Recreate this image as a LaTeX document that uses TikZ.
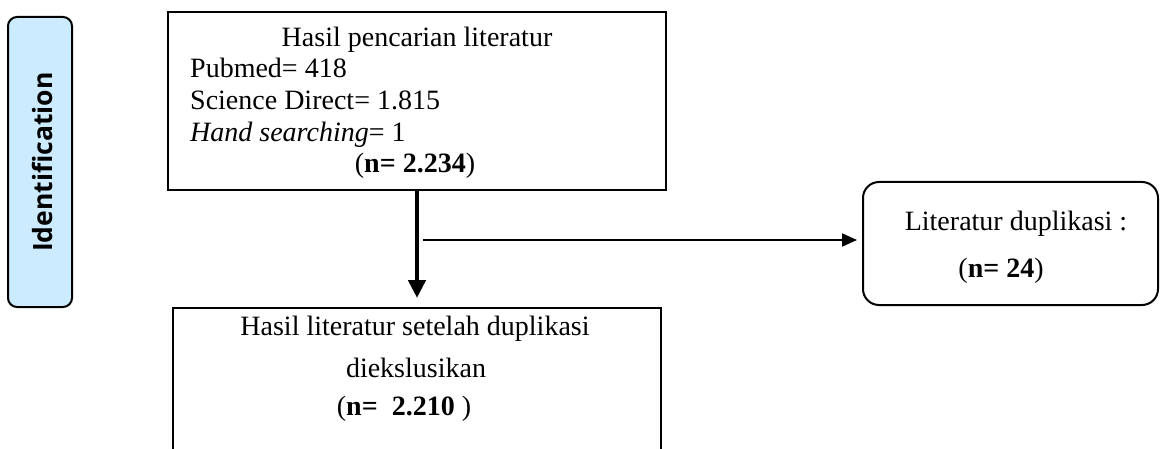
\documentclass[tikz,border=0pt]{standalone}
\usepackage{fontspec}
\setmainfont{Liberation Serif}
\newfontfamily\idfont{Open Sans}
\usetikzlibrary{arrows.meta}
\definecolor{idblue}{HTML}{CCEBFF}
\begin{document}
\begin{tikzpicture}[x=1pt,y=-1pt,
  box/.style={draw=black, line width=2pt, inner sep=0pt},
  txt/.style={font=\fontsize{28}{34}\selectfont, inner sep=0pt, anchor=base},
  ltxt/.style={txt, anchor=base west},
]
\useasboundingbox (0,0) rectangle (1161,449);
\clip (0,0) rectangle (1161,449);
% Identification label
\node[box, rounded corners=9pt, fill=idblue, minimum width=64pt, minimum height=290pt] (id) at (40,162) {};
\node[rotate=90, inner sep=0pt, font=\idfont\bfseries\fontsize{26.5}{30}\selectfont] (idt) at (42,162) {Identification};
% top box
\node[box, minimum width=498pt, minimum height=178pt] (top) at (417,101) {};
\node[txt] (t1) at (417,47) {Hasil pencarian literatur};
\node[ltxt] (t2) at (190,78) {Pubmed= 418};
\node[ltxt] (t3) at (190,110) {Science Direct= 1.815};
\node[ltxt] (t4) at (190,142) {\textit{Hand searching}= 1};
\node[txt] (t5) at (415,173) {(\textbf{n= 2.234})};
% duplicate box
\node[box, rounded corners=16pt, minimum width=295pt, minimum height=123pt] (dup) at (1010.5,243.5) {};
\node[txt] (d1) at (1016,230) {Literatur duplikasi :};
\node[txt] (d2) at (1001,277) {(\textbf{n= 24})};
% result box (open at bottom)
\node[box, minimum width=488pt, minimum height=300pt, anchor=north] (res) at (417,307) {};
\node[txt] (b1) at (415,335) {Hasil literatur setelah duplikasi};
\node[txt] (b2) at (416,377) {diekslusikan};
\node[txt] (b3) at (404,415) {(\textbf{n=~~2.210} )};
% connectors
\draw[line width=4.5pt, -{Triangle[width=17pt,length=18pt]}, shorten >=9pt] (top.south) -- (res.north);
\coordinate (hs) at (423,240);
\draw[line width=2pt, -{Triangle[width=13pt,length=15pt]}, shorten >=5pt] (hs) -- (hs -| dup.west);
\end{tikzpicture}
\end{document}
